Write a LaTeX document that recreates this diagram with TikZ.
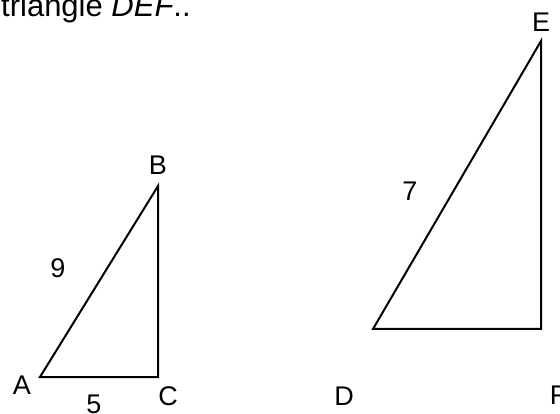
\documentclass[tikz,border=0pt]{standalone}
\usepackage{fontspec}
\setmainfont{Liberation Sans}
\usetikzlibrary{positioning}

\begin{document}
\begin{tikzpicture}[
  x=1pt,y=-1pt,
  side/.style={draw, line width=2pt, line join=miter},
  lbl/.style={font=\fontsize{27}{32}\selectfont, inner sep=0pt},
  head/.style={font=\fontsize{31}{36}\selectfont, inner sep=0pt}
]
\useasboundingbox (0,0) rectangle (560,414);
% small triangle
\coordinate (A) at (40,377);
\coordinate (B) at (158,186);
\coordinate (C) at (158,377);
% big triangle
\coordinate (D) at (373,329);
\coordinate (E) at (541,41);
\coordinate (F) at (541,329);
\draw[side] (A) -- (B) -- (C) -- cycle;
\draw[side] (D) -- (E) -- (F) -- cycle;
\node[head, anchor=base west] (title) at (1,17) {triangle \textit{DEF}..};
\node[lbl] (la) at (22,385) {A};
\node[lbl] (lb) at (158,165) {B};
\node[lbl] (lc) at (168,396) {C};
\node[lbl] (ld) at (344,396) {D};
\node[lbl] (le) at (541,22) {E};
\node[lbl] (lf) at (558,395) {F};
\node[lbl] (l9) at (58,268) {9};
\node[lbl] (l5) at (94,404) {5};
\node[lbl] (l7) at (410,191) {7};
\end{tikzpicture}
\end{document}
